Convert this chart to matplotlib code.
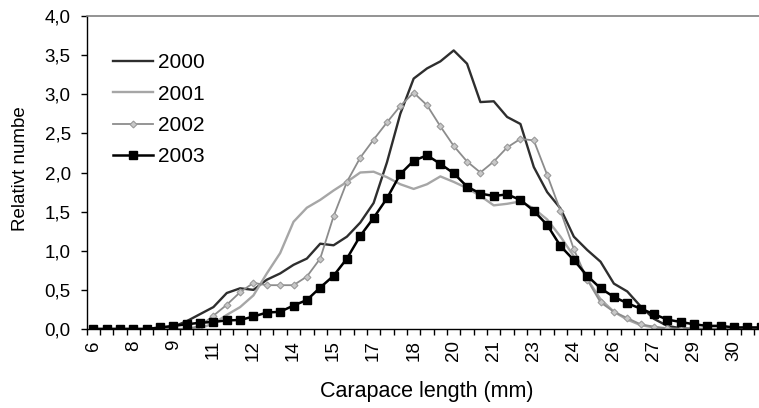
import numpy as np
import matplotlib.pyplot as plt

# skallängd i halva mm, 6.0 - 31.0
lengths = np.arange(6.0, 31.01, 0.5)

y2000 = [0, 0, 0, 0, 0, 0.01, 0.03, 0.10, 0.19, 0.28,
         0.46, 0.52, 0.50, 0.63, 0.71, 0.82, 0.90, 1.09, 1.07, 1.18,
         1.36, 1.61, 2.13, 2.75, 3.20, 3.33, 3.42, 3.56, 3.39, 2.90,
         2.91, 2.71, 2.62, 2.07, 1.75, 1.54, 1.18, 1.01, 0.86, 0.58,
         0.48, 0.29, 0.13, 0.04, 0.01, 0, 0, 0, 0, 0, 0]
y2001 = [0, 0, 0, 0, 0, 0, 0, 0, 0.01, 0.07,
         0.18, 0.28, 0.43, 0.71, 0.97, 1.37, 1.55, 1.65, 1.77, 1.88,
         2.00, 2.01, 1.94, 1.85, 1.79, 1.85, 1.95, 1.88, 1.80, 1.70,
         1.58, 1.60, 1.63, 1.54, 1.40, 1.18, 0.93, 0.64, 0.38, 0.22,
         0.12, 0.05, 0.02, 0, 0, 0, 0, 0, 0, 0, 0]
y2002 = [0, 0, 0, 0, 0, 0, 0, 0, 0.04, 0.17,
         0.31, 0.47, 0.59, 0.56, 0.56, 0.56, 0.67, 0.90, 1.44, 1.88,
         2.19, 2.42, 2.64, 2.85, 3.02, 2.86, 2.59, 2.34, 2.14, 2.00,
         2.14, 2.32, 2.43, 2.41, 1.97, 1.51, 1.02, 0.63, 0.34, 0.22,
         0.14, 0.06, 0.03, 0.01, 0, 0, 0, 0, 0, 0, 0]
y2003 = [0, 0, 0, 0, 0, 0.02, 0.04, 0.06, 0.08, 0.09,
         0.11, 0.115, 0.16, 0.21, 0.22, 0.30, 0.37, 0.53, 0.68, 0.90,
         1.19, 1.42, 1.67, 1.98, 2.15, 2.22, 2.11, 1.99, 1.82, 1.73,
         1.70, 1.72, 1.65, 1.51, 1.33, 1.06, 0.88, 0.68, 0.52, 0.41,
         0.33, 0.26, 0.19, 0.12, 0.09, 0.06, 0.04, 0.04, 0.02, 0.02, 0.02]

x_labels = ["6", "8", "9", "11", "12", "14", "15", "17", "18",
            "20", "21", "23", "24", "26", "27", "29", "30"]
y_ticks = [0.0, 0.5, 1.0, 1.5, 2.0, 2.5, 3.0, 3.5, 4.0]
y_labels = ["0,0", "0,5", "1,0", "1,5", "2,0", "2,5", "3,0", "3,5", "4,0"]

plt.rcParams['font.family'] = ['Liberation Sans', 'DejaVu Sans']

fig = plt.figure(figsize=(7.59, 4.08), dpi=100)
ax = fig.add_axes([86.6 / 759, 79 / 408, 672.4 / 759, 313 / 408])

pos = np.arange(len(lengths))
ax.plot(pos, y2000, color="#2e2e2e", lw=1.7, label="2000")
ax.plot(pos, y2001, color="#a6a6a6", lw=1.7, label="2001")
ax.plot(pos, y2002, color="#8c8c8c", lw=1.3, marker="D", ms=3.5,
        mfc="#c8c8c8", mec="#9a9a9a", mew=0.8, label="2002")
ax.plot(pos, y2003, color="black", lw=1.8, marker="s", ms=5.5, label="2003")

ax.set_xlim(-0.5, 49.87)
ax.set_ylim(0, 4.0)

ax.set_xticks(pos[0:49:3])
ax.set_xticklabels(x_labels, rotation=90, fontsize=13.5)
ax.set_xticks(np.arange(-0.5, 50.5, 1), minor=True)
ax.tick_params(axis="x", which="major", length=0, pad=8)
ax.tick_params(axis="x", which="minor", length=4, width=1, direction="out")

ax.set_yticks(y_ticks)
ax.set_yticklabels(y_labels, fontsize=13.5)
ax.tick_params(axis="y", length=4.5, width=1, pad=7, direction="out")

ax.spines["right"].set_visible(False)
ax.spines["top"].set_color("#808080")
ax.spines["top"].set_linewidth(1.2)
ax.spines["left"].set_linewidth(1.0)
ax.spines["bottom"].set_linewidth(1.0)

ax.legend(loc="upper left", bbox_to_anchor=(113 / 759, 1 - 53 / 408),
          bbox_transform=fig.transFigure, frameon=False, fontsize=15,
          handlelength=1.9, handletextpad=0.25, labelspacing=0.6,
          borderpad=0, borderaxespad=0, numpoints=1)

fig.text(21 / 759, 1 - 169 / 408, "Relativt numbe", rotation=90,
         ha="center", va="center", fontsize=13.5)
fig.text(427 / 759, 1 - 392 / 408, "Carapace length (mm)",
         ha="center", va="center", fontsize=15.5)

fig.savefig("out.png", dpi=100)
